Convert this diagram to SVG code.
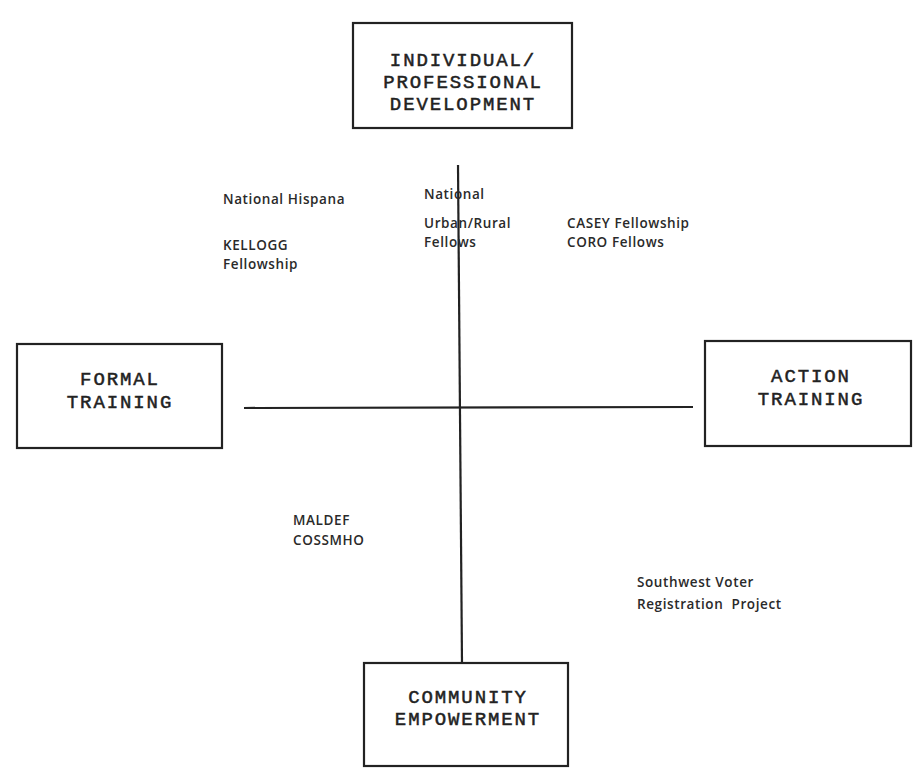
<svg xmlns="http://www.w3.org/2000/svg" width="914" height="768" viewBox="0 0 914 768">
<style>
.box{fill:#fff;stroke:#222;stroke-width:2.2}
.axis{stroke:#222;stroke-width:2.2;fill:none}
.t{font-family:"Liberation Mono","Courier New",monospace;font-size:19px;letter-spacing:1.9px;font-weight:normal;fill:#222;stroke:#222;stroke-width:0.5;text-anchor:middle}
.s{font-family:"Open Sans","Noto Sans",sans-serif;font-size:13.5px;letter-spacing:0.6px;font-weight:600;fill:#2a2a2a;white-space:pre}
</style>
<rect width="914" height="768" fill="#fff"/>
<g id="connectors">
<line class="axis" x1="458" y1="165" x2="462" y2="663"/>
<line class="axis" x1="244" y1="408" x2="693" y2="407"/>
</g>
<g id="node-individual">
<rect class="box" x="353" y="23" width="219" height="105"/>
<text class="t" x="463" y="66">INDIVIDUAL/</text>
<text class="t" x="463" y="88">PROFESSIONAL</text>
<text class="t" x="463" y="110">DEVELOPMENT</text>
</g>
<g id="node-formal">
<rect class="box" x="17" y="344" width="205" height="104"/>
<text class="t" x="120" y="385">FORMAL</text>
<text class="t" x="120" y="408">TRAINING</text>
</g>
<g id="node-action">
<rect class="box" x="705" y="341" width="206" height="105"/>
<text class="t" x="811" y="382">ACTION</text>
<text class="t" x="811" y="405">TRAINING</text>
</g>
<g id="node-community">
<rect class="box" x="364" y="663" width="204" height="103"/>
<text class="t" x="468" y="703">COMMUNITY</text>
<text class="t" x="468" y="725">EMPOWERMENT</text>
</g>
<g id="labels">
<text class="s" x="223" y="204">National Hispana</text>
<text class="s" x="223" y="250">KELLOGG</text>
<text class="s" x="223" y="269">Fellowship</text>
<text class="s" x="424" y="199">National</text>
<text class="s" x="424" y="228">Urban/Rural</text>
<text class="s" x="424" y="247">Fellows</text>
<text class="s" x="567" y="228">CASEY Fellowship</text>
<text class="s" x="567" y="247">CORO Fellows</text>
<text class="s" x="293" y="525">MALDEF</text>
<text class="s" x="293" y="545">COSSMHO</text>
<text class="s" x="637" y="587">Southwest Voter</text>
<text class="s" x="637" y="609" xml:space="preserve">Registration  Project</text>
</g>
</svg>
